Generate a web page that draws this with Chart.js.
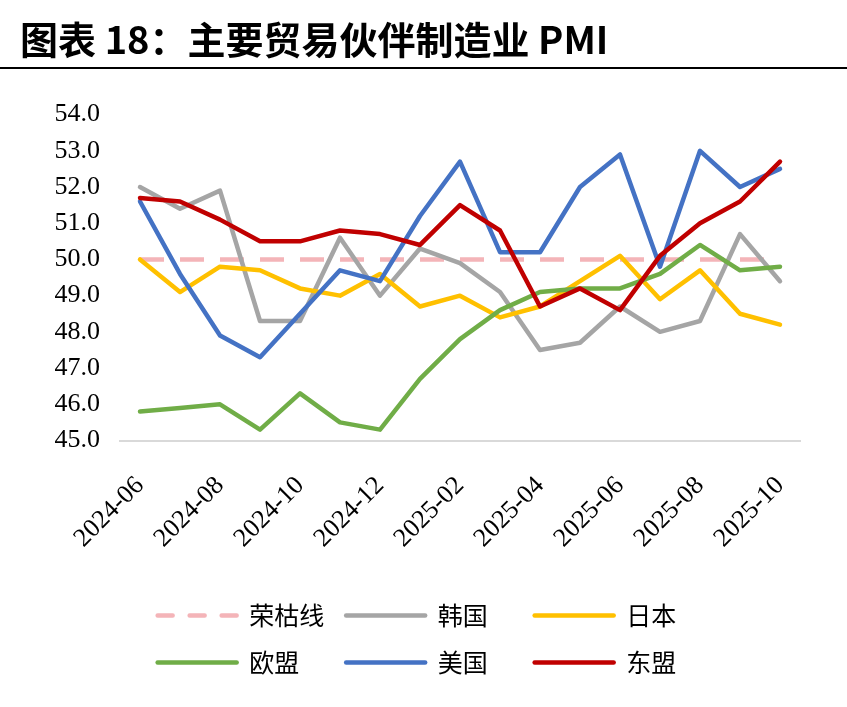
<!DOCTYPE html>
<html>
<head>
<meta charset="utf-8">
<script src="https://cdn.jsdelivr.net/npm/chart.js@4.4.1/dist/chart.umd.min.js"></script>
<style>
  html, body { margin: 0; padding: 0; background: #ffffff; }
  #wrap { width: 847px; height: 707px; }
</style>
</head>
<body>
<div id="wrap"><canvas id="c" width="847" height="707"></canvas></div>
<script>
const titleText = '图表 18：主要贸易伙伴制造业 PMI';
const months = ['2024-06','2024-07','2024-08','2024-09','2024-10','2024-11','2024-12',
  '2025-01','2025-02','2025-03','2025-04','2025-05','2025-06','2025-07','2025-08','2025-09','2025-10'];
const yTicks = [45, 46, 47, 48, 49, 50, 51, 52, 53, 54];
const seriesNames = ['荣枯线', '韩国', '日本', '欧盟', '美国', '东盟'];
const boomBust = [50, 50, 50, 50, 50, 50, 50, 50, 50, 50, 50, 50, 50, 50, 50, 50, 50];
const korea  = [52.0, 51.4, 51.9, 48.3, 48.3, 50.6, 49.0, 50.3, 49.9, 49.1, 47.5, 47.7, 48.7, 48.0, 48.3, 50.7, 49.4];
const japan  = [50.0, 49.1, 49.8, 49.7, 49.2, 49.0, 49.6, 48.7, 49.0, 48.4, 48.7, 49.4, 50.1, 48.9, 49.7, 48.5, 48.2];
const eu     = [45.8, 45.9, 46.0, 45.3, 46.3, 45.5, 45.3, 46.7, 47.8, 48.6, 49.1, 49.2, 49.2, 49.6, 50.4, 49.7, 49.8];
const usa    = [51.6, 49.6, 47.9, 47.3, 48.5, 49.7, 49.4, 51.2, 52.7, 50.2, 50.2, 52.0, 52.9, 49.8, 53.0, 52.0, 52.5];
const asean  = [51.7, 51.6, 51.1, 50.5, 50.5, 50.8, 50.7, 50.4, 51.5, 50.8, 48.7, 49.2, 48.6, 50.1, 51.0, 51.6, 52.7];

const colors = ['#F4B4B8', '#A5A5A5', '#FFC000', '#70AD47', '#4472C4', '#C00000'];
const values = [boomBust, korea, japan, eu, usa, asean];
// legend text padding so that the two legend rows form aligned columns
const legendPad = ['', '\u3000', '\u3000\u3000\u3000  ', '\u3000', '\u3000', '\u3000\u3000\u3000  '];

const datasets = seriesNames.map((name, i) => ({
  label: name,
  data: values[i],
  borderColor: colors[i],
  backgroundColor: colors[i],
  borderWidth: 4.5,
  borderDash: i === 0 ? [24, 16] : [],
  borderCapStyle: i === 0 ? 'butt' : 'round',
  borderJoinStyle: 'round',
  pointRadius: 0,
  pointHoverRadius: 0,
  tension: 0,
  fill: false,
  order: seriesNames.length - i
}));

const titleRule = {
  id: 'titleRule',
  beforeDraw(chart) {
    const ctx = chart.ctx;
    ctx.save();
    ctx.fillStyle = '#ffffff';
    ctx.fillRect(0, 0, chart.width, chart.height);
    ctx.restore();
  },
  afterDraw(chart) {
    const ctx = chart.ctx;
    ctx.save();
    ctx.strokeStyle = '#000000';
    ctx.lineWidth = 2;
    ctx.beginPath();
    ctx.moveTo(0, 68);
    ctx.lineTo(chart.width, 68);
    ctx.stroke();
    ctx.restore();
  }
};

new Chart(document.getElementById('c'), {
  type: 'line',
  data: { labels: months, datasets: datasets },
  plugins: [titleRule],
  options: {
    responsive: false,
    animation: false,
    events: [],
    layout: { padding: { left: 20, right: 47, top: 0, bottom: 22 } },
    plugins: {
      tooltip: { enabled: false },
      title: {
        display: true,
        text: titleText,
        align: 'start',
        color: '#000000',
        font: { family: '"Noto Sans CJK SC", sans-serif', size: 38, weight: 'bold' },
        padding: { top: 17, bottom: 52 }
      },
      legend: {
        display: true,
        position: 'bottom',
        fullSize: false,
        align: 'center',
        labels: {
          color: '#000000',
          font: { family: '"Noto Sans CJK SC", sans-serif', size: 25 },
          usePointStyle: true,
          pointStyle: 'line',
          pointStyleWidth: 79,
          padding: 22,
          sort: (a, b) => a.datasetIndex - b.datasetIndex,
          generateLabels(chart) {
            const items = Chart.defaults.plugins.legend.labels.generateLabels(chart);
            return items.map(it => {
              const ds = chart.data.datasets[it.datasetIndex];
              it.text = ds.label + legendPad[it.datasetIndex];
              it.lineWidth = ds.borderWidth;
              it.strokeStyle = ds.borderColor;
              it.fillStyle = ds.borderColor;
              it.lineDash = it.datasetIndex === 0 ? [15, 17] : [];
              it.lineCap = 'round';
              it.pointStyle = 'line';
              return it;
            });
          }
        }
      }
    },
    scales: {
      x: {
        type: 'category',
        offset: true,
        grid: { display: false, drawTicks: false },
        border: { display: true, color: '#D9D9D9', width: 2 },
        ticks: {
          autoSkip: false,
          minRotation: 45,
          maxRotation: 45,
          padding: 30,
          color: '#000000',
          font: { family: '"Liberation Serif", "Times New Roman", serif', size: 26 },
          callback(value, index) { return index % 2 === 0 ? months[index] : ''; }
        },
        afterFit(scale) { scale.height = 140.5; }
      },
      y: {
        min: 45,
        max: 54,
        afterBuildTicks(scale) { scale.ticks = yTicks.map(v => ({ value: v })); },
        grid: { display: false, drawTicks: false },
        border: { display: false },
        ticks: {
          padding: 20,
          color: '#000000',
          font: { family: '"Liberation Serif", "Times New Roman", serif', size: 26 },
          callback(value) { return Number(value).toFixed(1); }
        },
        afterFit(scale) { scale.width = 100; }
      }
    }
  }
});
</script>
</body>
</html>
